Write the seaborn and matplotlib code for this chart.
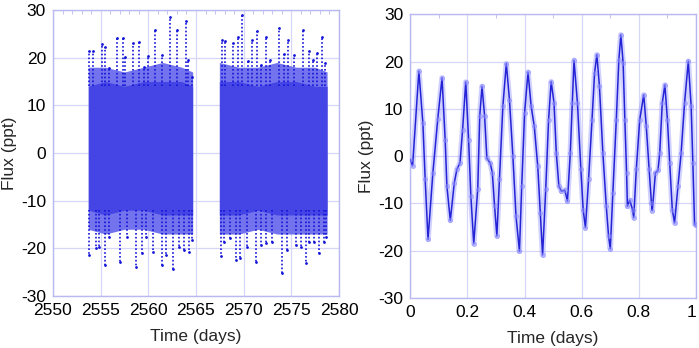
import numpy as np
import pandas as pd
import matplotlib
matplotlib.use("Agg")
import matplotlib.pyplot as plt
from matplotlib.ticker import MultipleLocator, FormatStrFormatter
import seaborn as sns

# ---- left panel: whole sector, read off as a dense core band, a sparser
# outer band and the single spikes that stick out of it
core_t1 = [2553.7, 2555.5, 2557.5, 2559.5, 2561.5, 2563.5, 2564.65]
core_hi1 = [14, 15, 14, 15, 15, 15, 14]
core_lo1 = [-12, -13, -12, -12, -13, -13, -13]
outer_hi1 = [18, 18, 17, 18, 19, 18, 17]
outer_lo1 = [-16, -17, -16, -16, -17, -17, -17]
core_t2 = [2567.45, 2569.5, 2571.5, 2573.5, 2575.5, 2577.5, 2578.75]
core_hi2 = [15, 15, 14, 15, 15, 14, 14]
core_lo2 = [-13, -13, -12, -13, -13, -13, -13]
outer_hi2 = [19, 18, 18, 19, 18, 18, 17]
outer_lo2 = [-17, -17, -16, -17, -17, -17, -17]

top_t = [2553.8, 2554.2, 2555.1, 2555.5, 2555.9, 2556.7, 2557.3, 2557.6, 2558.4, 2559.0,
         2559.5, 2560.0, 2560.7, 2561.4, 2562.3, 2563.0, 2563.9, 2564.2, 2564.6,
         2567.7, 2568.0, 2568.9, 2569.4, 2569.8, 2570.5, 2570.9, 2571.4, 2571.8, 2572.3,
         2572.8, 2573.7, 2574.2, 2574.6, 2575.3, 2576.2, 2576.8, 2577.3, 2577.7, 2578.2, 2578.5]
top_f = [21.3, 21.3, 22.8, 22.3, 17.8, 24.2, 24.2, 20.2, 23.1, 23.2,
         18.1, 20.3, 25.8, 20.6, 28.5, 25.9, 27.6, 19.5, 16.0,
         23.7, 23.4, 23.0, 24.4, 29.0, 19.2, 23.7, 25.7, 18.5, 24.3,
         19.5, 26.3, 20.7, 23.7, 20.6, 25.8, 21.3, 19.5, 20.9, 24.4, 18.8]

bot_t = [2553.8, 2554.5, 2554.85, 2555.5, 2555.9, 2557.0, 2557.8, 2558.7, 2559.3, 2559.8,
         2560.5, 2561.4, 2561.9, 2562.6, 2563.2, 2563.7, 2564.3, 2564.6,
         2567.6, 2567.9, 2568.6, 2569.2, 2569.6, 2570.3, 2571.3, 2571.8, 2572.3, 2573.0,
         2574.0, 2574.5, 2575.5, 2576.0, 2576.5, 2576.9, 2577.4, 2577.9, 2578.4, 2578.6]
bot_f = [-21.4, -20.0, -19.8, -23.4, -17.6, -22.8, -17.6, -24.0, -21.0, -17.6,
         -20.7, -23.5, -21.4, -24.4, -19.7, -20.3, -20.7, -18.3,
         -21.6, -18.6, -17.9, -22.5, -22.1, -19.7, -22.8, -19.3, -18.9, -18.6,
         -25.2, -20.3, -19.3, -19.7, -23.1, -18.6, -18.6, -21.0, -18.6, -17.6]

# ---- right panel: one day of the light curve
day_t = [0.000, 0.008, 0.030, 0.044, 0.052, 0.062, 0.079, 0.096, 0.111, 0.122, 0.128, 0.140,
         0.154, 0.163, 0.174, 0.183, 0.194, 0.204, 0.212, 0.222, 0.236, 0.243, 0.251,
         0.260, 0.268, 0.280, 0.287, 0.295, 0.303, 0.312, 0.324, 0.336, 0.347, 0.359,
         0.370, 0.382, 0.390, 0.400, 0.412, 0.423, 0.434, 0.446, 0.455, 0.463, 0.474,
         0.484, 0.493, 0.503, 0.511, 0.520, 0.529, 0.541, 0.550, 0.560, 0.567, 0.573,
         0.585, 0.597, 0.605, 0.613, 0.624, 0.636, 0.645, 0.653, 0.662, 0.674, 0.686,
         0.694, 0.700, 0.709, 0.721, 0.730, 0.737, 0.745, 0.751, 0.757, 0.760, 0.768,
         0.778, 0.782, 0.791, 0.803, 0.817, 0.826, 0.836, 0.844, 0.847, 0.858, 0.867,
         0.873, 0.882, 0.891, 0.900, 0.908, 0.917, 0.925, 0.937, 0.948, 0.960, 0.973,
         0.983, 0.989, 0.995, 1.000]
day_f = [-0.7, -2.0, 18.0, 7.0, -4.9, -17.6, -3.5, 7.8, 16.6, 3.5, -6.3, -13.6,
         -5.6, -2.8, -1.4, 5.6, 15.7, 3.5, -8.5, -18.5, -7.0, 8.5, 14.8,
         8.5, -0.4, -1.5, -3.5, -10.6, -16.9, -4.9, 10.6, 19.6, 12.0, 0.0,
         -12.7, -20.1, -6.3, 9.2, 17.8, 10.6, 6.3, -2.1, -12.0, -20.9, -7.0,
         7.7, 15.8, 11.3, 0.7, -6.3, -7.4, -7.2, -9.5, 0.7, 11.3, 20.3,
         11.3, -2.8, -11.3, -15.1, -4.9, 7.7, 17.6, 21.5, 14.8, 0.7, -10.6,
         -16.9, -19.6, -7.7, 7.7, 20.4, 25.7, 19.7, 7.7, -3.5, -10.6, -9.3,
         -11.3, -13.0, -2.8, 7.7, 13.0, 6.3, -2.8, -9.9, -11.5, -3.5, -3.0,
         0.7, 11.3, 15.1, 7.7, -1.4, -11.3, -14.1, -6.3, 0.7, 11.3, 20.1,
         10.6, -1.4, -14.4, -14.6]

sns.set_style("white")
plt.rcParams['font.family'] = ['Liberation Sans', 'DejaVu Sans']
plt.rcParams['axes.unicode_minus'] = False

frame = '#b9b9f2'
grid = '#d6d6f8'
dots = '#1414d8'
fs = 12.5

fig = plt.figure(figsize=(6.99, 3.48), dpi=100)
ax1 = fig.add_axes([0.0758, 0.1494, 0.4092, 0.8218])
ax2 = fig.add_axes([0.5870, 0.1437, 0.4087, 0.8147])

# left
for ct, chi, clo, ohi, olo in [(core_t1, core_hi1, core_lo1, outer_hi1, outer_lo1),
                               (core_t2, core_hi2, core_lo2, outer_hi2, outer_lo2)]:
    ax1.fill_between(ct, olo, ohi, facecolor=(0.45, 0.45, 0.93), linewidth=0, zorder=2)
    ax1.fill_between(ct, clo, chi, facecolor=(0.27, 0.27, 0.9), linewidth=0, zorder=2)
ax1.vlines(top_t, 14, top_f, colors=dots, linewidth=1.2, linestyles=(0, (1, 1.3)), zorder=3)
ax1.vlines(bot_t, -12, bot_f, colors=dots, linewidth=1.2, linestyles=(0, (1, 1.3)), zorder=3)
sns.scatterplot(x=top_t + bot_t, y=top_f + bot_f, ax=ax1, color=dots, s=4,
                linewidth=0, zorder=4)
ax1.set_xlim(2550, 2580)
ax1.xaxis.set_major_locator(MultipleLocator(5))
ax1.xaxis.set_minor_locator(MultipleLocator(1))

# right: light halo of the dense samples, then the curve itself
ax2.plot(day_t, day_f, color=(0.6, 0.6, 1.0), linewidth=4, alpha=0.45,
         solid_joinstyle='round', zorder=2)
df = pd.DataFrame({'t': day_t, 'f': day_f})
sns.lineplot(data=df, x='t', y='f', ax=ax2, color='#2424d6', linewidth=1.1,
             marker='o', markersize=3, markerfacecolor=(0.6, 0.6, 1.0, 0.5),
             markeredgecolor=(0.5, 0.5, 1.0, 0.6), markeredgewidth=0.5, zorder=3)
ax2.set_xlim(0, 1)
ax2.xaxis.set_major_locator(MultipleLocator(0.2))
ax2.xaxis.set_minor_locator(MultipleLocator(0.1))
ax2.xaxis.set_major_formatter(FormatStrFormatter('%g'))

for ax in (ax1, ax2):
    ax.set_ylim(-30, 30)
    ax.yaxis.set_major_locator(MultipleLocator(10))
    ax.grid(True, color=grid, linewidth=0.9, zorder=0)
    ax.set_axisbelow(True)
    for s in ax.spines.values():
        s.set_color(frame)
        s.set_linewidth(1.0)
        s.set_visible(True)
    ax.tick_params(which='both', direction='in', top=True, right=True, color=frame,
                   labelsize=fs, labelcolor='black', pad=5)
    ax.tick_params(which='major', length=0)
    ax.tick_params(which='minor', length=3)
    ax.set_xlabel('Time (days)', fontsize=fs, labelpad=8)
    ax.set_ylabel('Flux (ppt)', fontsize=fs, labelpad=3)

# the "1" of the right panel sits on the figure edge; keep it inside
fig.canvas.draw()
for lab in ax2.get_xticklabels():
    if lab.get_text() == '1':
        lab.set_horizontalalignment('right')

fig.savefig('out.png', dpi=100)
